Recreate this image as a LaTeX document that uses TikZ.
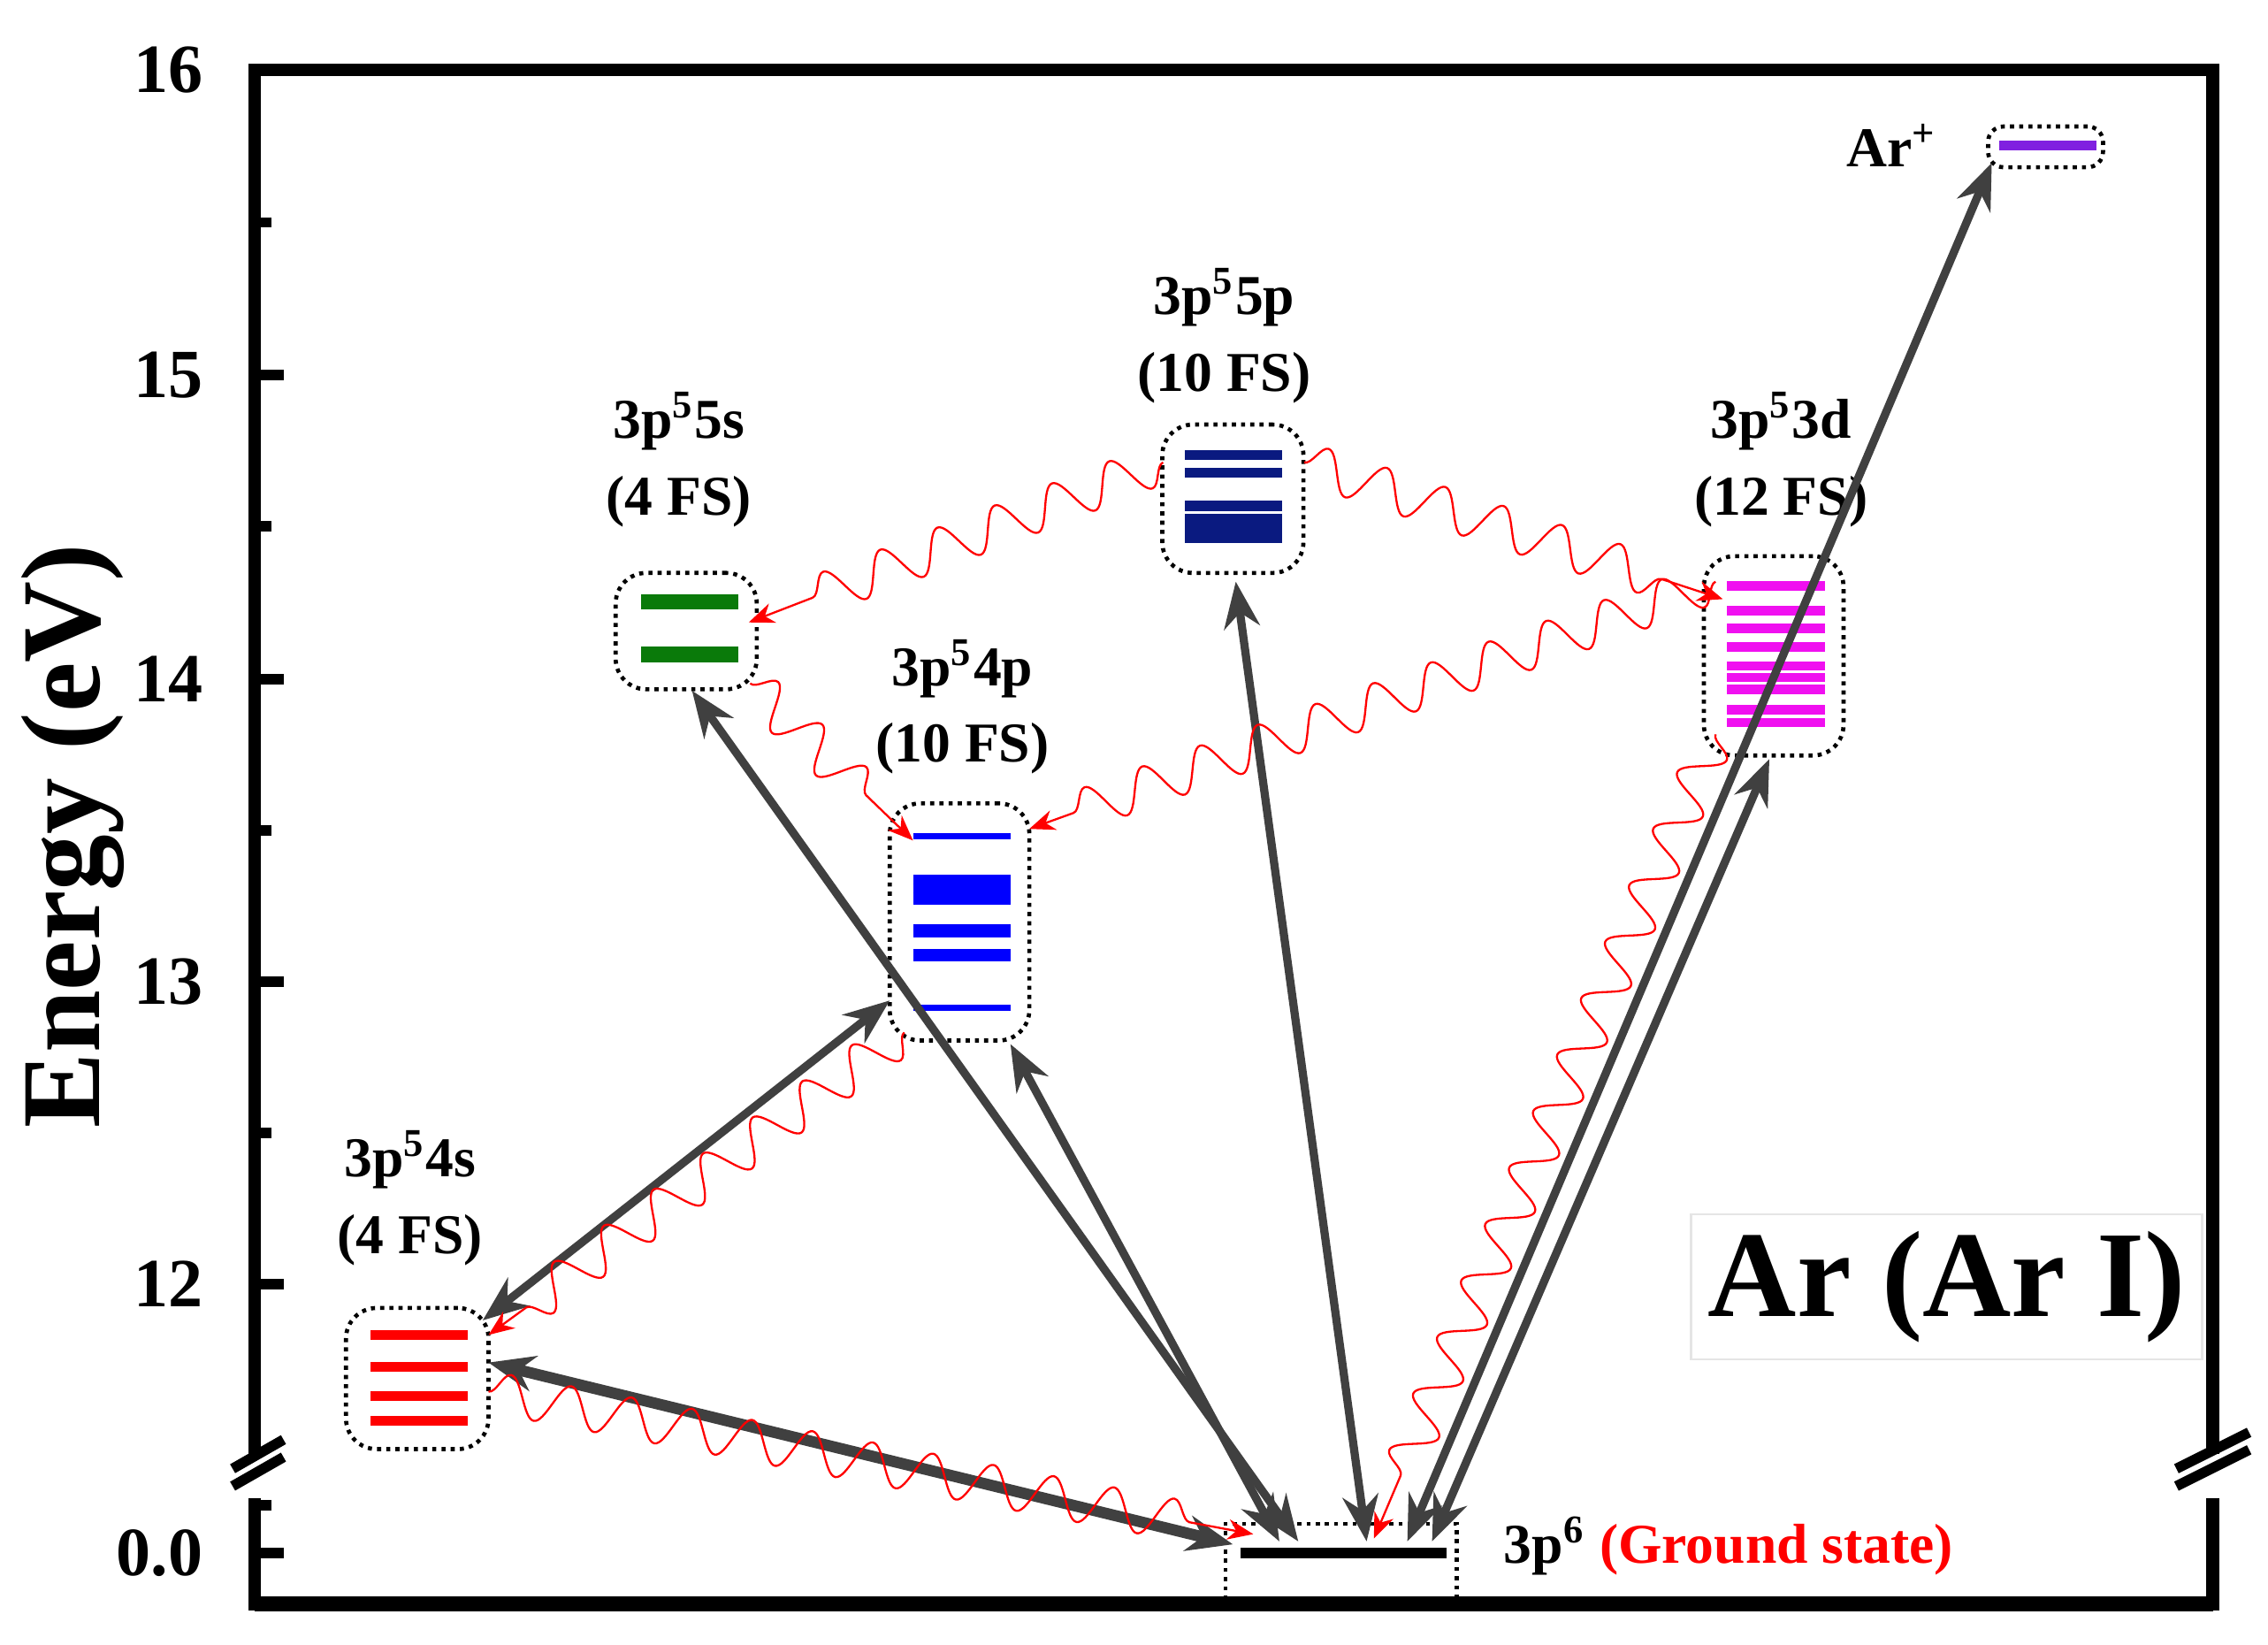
\documentclass[tikz,border=0pt]{standalone}
\usepackage{fontspec}
\setmainfont{Liberation Serif}
\usetikzlibrary{arrows.meta,decorations.pathmorphing,calc}
\definecolor{agray}{HTML}{404040}
\definecolor{navy}{HTML}{0A1A80}
\definecolor{grn}{HTML}{0A7A0A}
\definecolor{mag}{HTML}{F010F0}
\definecolor{vio}{HTML}{8020E0}
\begin{document}
\begin{tikzpicture}[x=0.01cm,y=-0.01cm,
  lvl/.style={draw=black,densely dotted,thick,rounded corners=6pt},
  ttl/.style={font=\bfseries\fontsize{11}{13}\selectfont,align=center},
  ex/.style={agray,line width=1.6pt,{Stealth[length=9pt,width=7pt]}-{Stealth[length=9pt,width=7pt]}},
  wv/.style={red,thin,decorate,decoration={snake,amplitude=4pt,segment length=12pt,post length=8pt},-{Stealth[length=5pt,width=4pt]}},
  tk/.style={line width=2pt},
  tl/.style={font=\bfseries\fontsize{13.5}{15}\selectfont,anchor=east}]
\useasboundingbox (0,0) rectangle (1560,1131);
% frame
\draw[line width=2.5pt] (175,1000) -- (175,48) -- (1522,48) -- (1522,1000);
\draw[line width=2.5pt] (175,1030) -- (175,1103) -- (1522,1103) -- (1522,1030);
\draw[line width=3pt] (1522,1103) -- (175,1103);
\draw[line width=2pt] (160,1010) -- (195,990) (160,1022) -- (195,1002);
\draw[line width=2pt] (1497,1010) -- (1547,985) (1497,1022) -- (1547,997);
% ticks
\foreach \e/\y in {16/48,15/258,14/467,13/675,12/883}{
  \draw[tk] (175,\y) -- (195,\y);
  \node[tl] (t\e) at (152,\y) {\e};}
\foreach \y in {153,362,571,779,1035}{\draw[tk] (175,\y) -- (187,\y);}
\draw[tk] (175,1068) -- (195,1068);
\node[tl] (t0) at (152,1068) {0.0};
\node[rotate=90,font=\bfseries\fontsize{22}{24}\selectfont] (ylab) at (50,575) {Energy (eV)};
% level boxes
\node[lvl,minimum width=0.98cm,minimum height=0.97cm] (s4) at (287,948) {};
\node[lvl,minimum width=0.96cm,minimum height=1.63cm] (p4) at (660,634) {};
\node[lvl,minimum width=0.97cm,minimum height=0.80cm] (s5) at (472,434) {};
\node[lvl,minimum width=0.97cm,minimum height=1.02cm] (p5) at (848,343) {};
\node[lvl,minimum width=0.96cm,minimum height=1.37cm] (d3) at (1220,451) {};
\node[lvl,rounded corners=3pt,minimum width=0.79cm,minimum height=0.28cm] (ion) at (1407,101) {};
\draw[black,densely dotted,thick] (843,1100) -- (843,1048) -- (1002,1048) -- (1002,1100);
\coordinate (gs) at (922,1068);
% sublevels
\foreach \y in {918,940,960,977}{\draw[red,line width=2pt] (255,\y) -- (322,\y);}
\foreach \y/\w in {575/1.3,606/2.5,612/2.5,618/2.5,640/2.5,657/2.5,693/1.3}{\draw[blue,line width=\w pt] (628,\y) -- (695,\y);}
\foreach \y in {414,450}{\draw[grn,line width=3pt] (441,\y) -- (508,\y);}
\foreach \y in {313,325,348,357,363,370}{\draw[navy,line width=2pt] (815,\y) -- (882,\y);}
\foreach \y in {403,420,432,445,458,466,474,488,497}{\draw[mag,line width=1.8pt] (1188,\y) -- (1255,\y);}
\draw[vio,line width=2pt] (1375,100) -- (1442,100);
\draw[line width=2pt] (853,1068) -- (995,1068);
% labels
\node[ttl] (ls4) at (282,824) {3p\textsuperscript{5}4s\\[2pt](4 FS)};
\node[ttl] (lp4) at (662,486) {3p\textsuperscript{5}4p\\[2pt](10 FS)};
\node[ttl] (ls5) at (467,316) {3p\textsuperscript{5}5s\\[2pt](4 FS)};
\node[ttl] (lp5) at (842,231) {3p\textsuperscript{5}5p\\[2pt](10 FS)};
\node[ttl] (ld3) at (1225,316) {3p\textsuperscript{5}3d\\[2pt](12 FS)};
\node[ttl,anchor=east] (lion) at (1345,100) {Ar\textsuperscript{+}};
\node[ttl,anchor=west] (lgs) at (1022,1063) {3p\textsuperscript{6} \textcolor{red}{(Ground state)}};
\node[draw=black!10,fill=white,minimum width=3.12cm,minimum height=0.85cm,font=\bfseries\fontsize{24}{26}\selectfont] (arl) at (1339,885) {Ar (Ar I)};
% excitation arrows
\draw[ex,line width=2.2pt] (336,937) -- (848,1062);
\draw[ex] (332,908) -- (612,688);
\draw[ex] (476,475) -- (893,1060);
\draw[ex] (695,718) -- (880,1060);
\draw[ex] (850,400) -- (940,1060);
\draw[ex] (1370,112) -- (968,1060);
\draw[ex] (1217,522) -- (985,1060);
% radiative decays
\draw[wv] (800,318) -- (515,428);
\draw[wv] (897,318) -- (1185,412);
\draw[wv] (516,470) -- (628,578);
\draw[wv] (1180,400) -- (708,570);
\draw[wv] (622,710) -- (336,918);
\draw[wv] (336,957) -- (862,1055);
\draw[wv] (1180,505) -- (945,1058);
\end{tikzpicture}
\end{document}
